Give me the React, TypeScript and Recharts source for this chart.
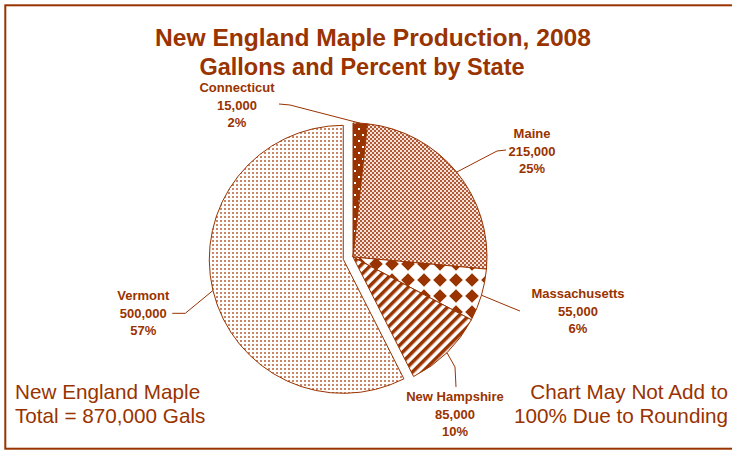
import { PieChart, Pie, Cell } from 'recharts';

const states = ['Connecticut', 'Maine', 'Massachusetts', 'New Hampshire', 'Vermont'];
const gallons = [15000, 215000, 55000, 85000, 500000];
const patternIds = ['pCT', 'pME', 'pMA', 'pNH', 'pVT'];

const BROWN = '#993300';
const FONT = '"Liberation Sans", Arial, sans-serif';
const RAD = Math.PI / 180;

const CX = 353;
const CY = 257;
const R = 134;
const EXPLODE = 10;

const data = states.map((name, i) => ({ name, value: gallons[i] }));
const total = gallons.reduce((a, b) => a + b, 0);

// Vermont is pulled out along its own mid angle (clockwise from 12 o'clock)
const vtIndex = states.indexOf('Vermont');
const vtBefore = gallons.slice(0, vtIndex).reduce((a, b) => a + b, 0);
const vtMid = ((vtBefore + gallons[vtIndex] / 2) / total) * 360;
const VX = CX + EXPLODE * Math.sin(vtMid * RAD);
const VY = CY - EXPLODE * Math.cos(vtMid * RAD);

// label spots, relative to the pie centre: label middle line, leader elbow, leader end
const labelLayout: Record<string, { lx: number; ly: number; ex: number; ey: number; tx: number; ty: number }> = {
  Connecticut: { lx: -116, ly: -152, ex: -63, ey: -152, tx: -74, ty: -153 },
  Maine: { lx: 179, ly: -106, ex: 144, ey: -106, tx: 153, ty: -107 },
  Massachusetts: { lx: 225, ly: 54, ex: 157, ey: 50, tx: 167, ty: 54 },
  'New Hampshire': { lx: 102, ly: 157, ex: 102, ey: 110, tx: 103, ty: 130 },
  Vermont: { lx: -200, ly: 54, ex: -158, ey: 54, tx: -171, ty: 54 },
};

const makeLabel = (exploded: boolean) => (props: any) => {
  const { cx, cy, midAngle, outerRadius, index, value, percent } = props;
  const name = states[index];
  if ((name === 'Vermont') !== exploded) return <g />;
  const p = labelLayout[name];
  const sx = cx + outerRadius * Math.cos(-midAngle * RAD);
  const sy = cy + outerRadius * Math.sin(-midAngle * RAD);
  const x = cx + p.lx;
  const y = cy + p.ly;
  const txt = { x, textAnchor: 'middle' as const, fill: BROWN, fontSize: 13, fontWeight: 'bold', fontFamily: FONT };
  return (
    <g>
      <polyline
        points={`${sx},${sy} ${cx + p.ex},${cy + p.ey} ${cx + p.tx},${cy + p.ty}`}
        fill="none"
        stroke={BROWN}
        strokeWidth={1}
      />
      <text {...txt} y={y - 13}>{name}</text>
      <text {...txt} y={y + 4.5}>{Number(value).toLocaleString('en-US')}</text>
      <text {...txt} y={y + 22}>{Math.round(percent * 100)}%</text>
    </g>
  );
};

function Backdrop() {
  return (
    <svg width={732} height={450} style={{ position: 'absolute', left: 0, top: 0 }}>
      <defs>
        <pattern id="pCT" width="8" height="12" patternUnits="userSpaceOnUse">
          <rect width="8" height="12" fill={BROWN} />
          <rect x="2" y="2" width="2" height="2" fill="#fff" />
          <rect x="6" y="8" width="2" height="2" fill="#fff" />
        </pattern>
        <pattern id="pME" width="4" height="4" patternUnits="userSpaceOnUse">
          <rect width="4" height="4" fill="#f3e2da" />
          <rect width="2" height="2" fill="#b25a35" />
          <rect x="2" y="2" width="2" height="2" fill="#b25a35" />
        </pattern>
        <pattern id="pMA" width="16" height="16" patternUnits="userSpaceOnUse">
          <rect width="16" height="16" fill="#fff" />
          <polygon points="8,1.2 14.8,8 8,14.8 1.2,8" fill={BROWN} />
        </pattern>
        <pattern id="pNH" width="7" height="7" patternUnits="userSpaceOnUse" patternTransform="rotate(45)">
          <rect width="7" height="7" fill="#fff" />
          <rect width="3.5" height="7" fill={BROWN} />
        </pattern>
        <pattern id="pVT" width="4" height="4" patternUnits="userSpaceOnUse">
          <rect width="4" height="4" fill="#fff" />
          <rect width="2" height="2" fill="#c98667" />
        </pattern>
      </defs>
      <rect x={5.3} y={5.3} width={800} height={443.4} fill="#fff" stroke={BROWN} strokeWidth={2} />
      <text x={373} y={46} textAnchor="middle" fill={BROWN} fontSize={24.6} fontWeight="bold" fontFamily={FONT}>
        New England Maple Production, 2008
      </text>
      <text x={362} y={75} textAnchor="middle" fill={BROWN} fontSize={23.5} fontWeight="bold" fontFamily={FONT}>
        Gallons and Percent by State
      </text>
      <text x={15} y={399} fill={BROWN} fontSize={20.7} fontFamily={FONT}>New England Maple</text>
      <text x={15} y={423} fill={BROWN} fontSize={20.7} fontFamily={FONT}>
        Total = {total.toLocaleString('en-US')} Gals
      </text>
      <text x={728} y={399} textAnchor="end" fill={BROWN} fontSize={20.7} fontFamily={FONT}>Chart May Not Add to</text>
      <text x={728} y={423} textAnchor="end" fill={BROWN} fontSize={20.7} fontFamily={FONT}>100% Due to Rounding</text>
    </svg>
  );
}

export default function App() {
  return (
    <div style={{ position: 'absolute', left: 0, top: 0, width: 732, height: 450 }}>
      <Backdrop />
      <div style={{ position: 'absolute', left: 0, top: 0 }}>
        <PieChart width={732} height={450} margin={{ top: 0, right: 0, bottom: 0, left: 0 }}>
          <Pie
            data={data}
            dataKey="value"
            nameKey="name"
            cx={CX}
            cy={CY}
            outerRadius={R}
            startAngle={90}
            endAngle={-270}
            label={makeLabel(false)}
            labelLine={false}
            isAnimationActive={false}
          >
            {data.map((d, i) => (
              <Cell
                key={d.name}
                fill={d.name === 'Vermont' ? 'none' : `url(#${patternIds[i]})`}
                stroke={d.name === 'Vermont' ? 'none' : BROWN}
                strokeWidth={1}
              />
            ))}
          </Pie>
          <Pie
            data={data}
            dataKey="value"
            nameKey="name"
            cx={VX}
            cy={VY}
            outerRadius={R}
            startAngle={90}
            endAngle={-270}
            label={makeLabel(true)}
            labelLine={false}
            isAnimationActive={false}
          >
            {data.map((d, i) => (
              <Cell
                key={d.name}
                fill={d.name === 'Vermont' ? `url(#${patternIds[i]})` : 'none'}
                stroke={d.name === 'Vermont' ? BROWN : 'none'}
                strokeWidth={1}
              />
            ))}
          </Pie>
        </PieChart>
      </div>
    </div>
  );
}
